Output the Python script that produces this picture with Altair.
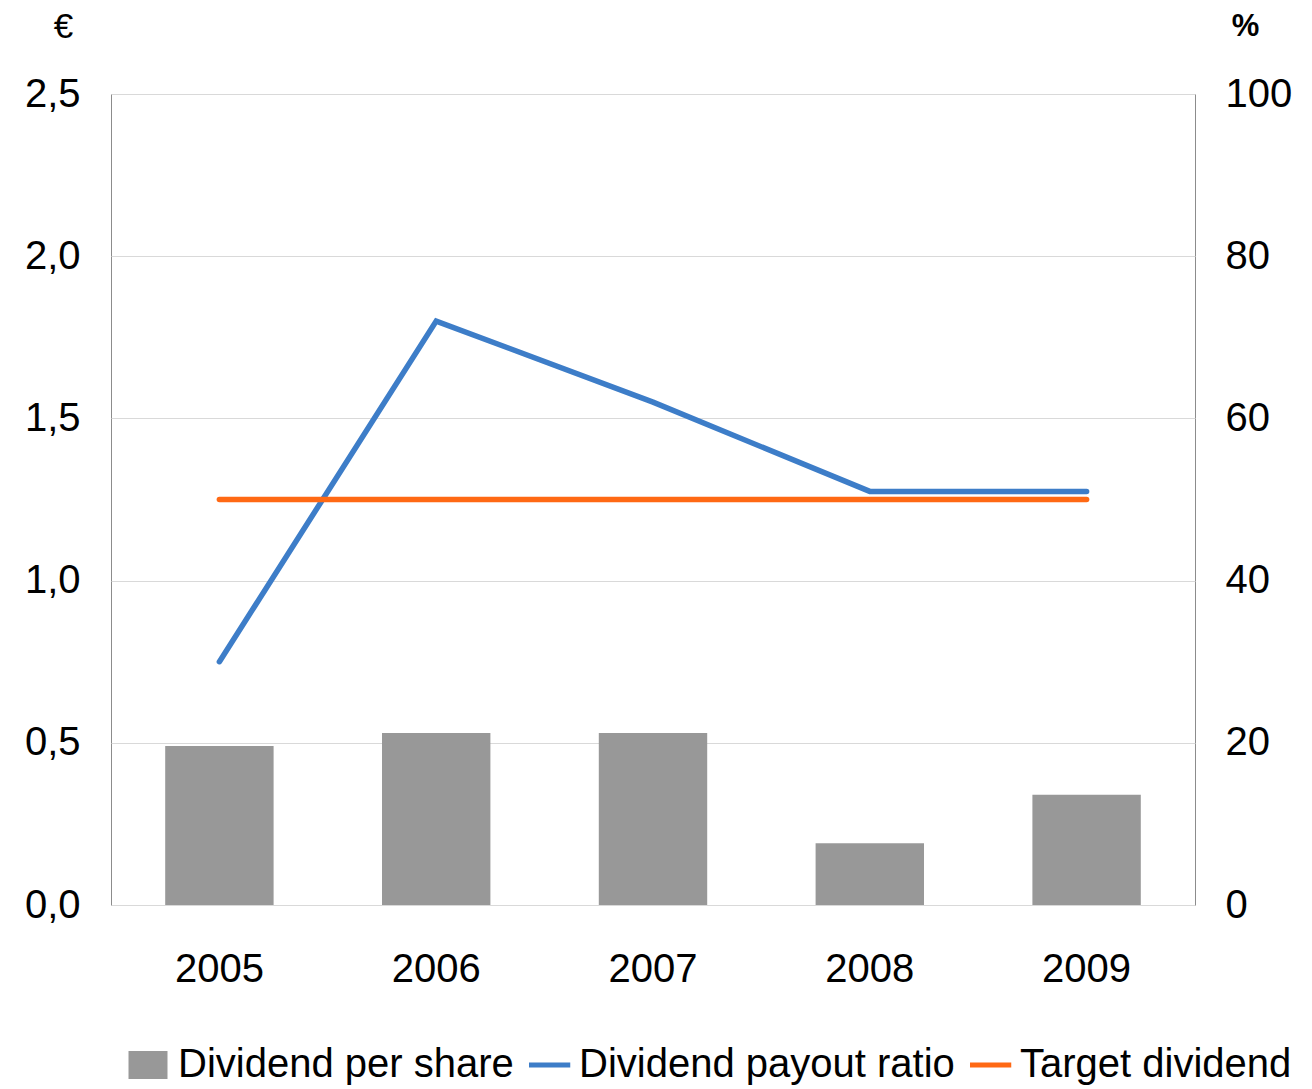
import altair as alt
import pandas as pd

# Chart data
years = ["2005", "2006", "2007", "2008", "2009"]
dividend_per_share = [0.49, 0.53, 0.53, 0.19, 0.34]   # € (left axis)
payout_ratio = [30, 72, 62, 51, 51]                    # % (right axis)
target_dividend = [50, 50, 50, 50, 50]                 # % (right axis)

series_names = ["Dividend per share", "Dividend payout ratio", "Target dividend"]
series_colors = ["#989898", "#3D7DC8", "#FF6914"]
# legend glyphs: a flat box for the bars, short strokes for the lines
legend_shapes = ["M-1,-0.68H1V0.68H-1Z", "M-1.25,0H1.25", "M-1.25,0H1.25"]

euro_ticks = [0, 0.5, 1.0, 1.5, 2.0, 2.5]
pct_ticks = [0, 20, 40, 60, 80, 100]

FONT = "Liberation Sans"

bars_df = pd.DataFrame({"year": years, "value": dividend_per_share})
lines_df = pd.DataFrame({
    "year": years * 2,
    "value": payout_ratio + target_dividend,
    "series": [series_names[1]] * len(years) + [series_names[2]] * len(years),
})
legend_df = pd.DataFrame({"series": series_names})

x_enc = alt.X(
    "year:N",
    sort=years,
    scale=alt.Scale(paddingInner=0.5, paddingOuter=0.25),
    axis=alt.Axis(title=None, labelAngle=0, ticks=False, domain=False,
                  labelPadding=44, labelFontSize=40, labelFont=FONT,
                  labelColor="black", grid=False),
)

bars = alt.Chart(bars_df).mark_bar(color=series_colors[0]).encode(
    x=x_enc,
    y=alt.Y(
        "value:Q",
        scale=alt.Scale(domain=[0, 2.5], nice=False),
        axis=alt.Axis(
            orient="left", title="€", values=euro_ticks,
            labelExpr="replace(format(datum.value, '.1f'), '.', ',')",
            ticks=False, domain=False, grid=True, gridColor="#d9d9d9", gridWidth=1,
            labelPadding=31, labelFontSize=40, labelFont=FONT, labelColor="black",
            titleAngle=0, titleX=-48, titleY=-57, titleAlign="center",
            titleBaseline="alphabetic", titleFontSize=35, titleFontWeight="normal",
            titleFont=FONT, titleColor="black",
        ),
    ),
)

lines = alt.Chart(lines_df).mark_line(strokeWidth=5.5, strokeCap="round", strokeJoin="miter").encode(
    x=x_enc,
    y=alt.Y(
        "value:Q",
        scale=alt.Scale(domain=[0, 100], nice=False),
        axis=alt.Axis(
            orient="right", title="%", values=pct_ticks, format="d",
            ticks=False, domain=False, grid=False,
            labelPadding=30, labelAlign="left", labelFontSize=40, labelFont=FONT,
            labelColor="black",
            titleAngle=0, titleX=50, titleY=-59, titleAlign="center",
            titleBaseline="alphabetic", titleFontSize=31, titleFontWeight="bold",
            titleFont=FONT, titleColor="black",
        ),
    ),
    color=alt.Color("series:N", scale=alt.Scale(domain=series_names[1:], range=series_colors[1:]),
                    legend=None),
    detail="series:N",
)

legend_props = dict(
    orient="none", legendX=17, legendY=947, direction="horizontal", title=None,
    labelFontSize=40, labelFont=FONT, labelColor="black", labelLimit=0,
    symbolSize=1156, symbolStrokeWidth=5, symbolOpacity=1,
    labelOffset=10, columnPadding=15, clipHeight=48,
)

# Legend entries for all three series (the layer itself draws no marks)
legend_layer = alt.Chart(legend_df).transform_filter("false").mark_point(filled=True).encode(
    fill=alt.Fill("series:N", scale=alt.Scale(domain=series_names, range=series_colors),
                  legend=alt.Legend(**legend_props)),
    stroke=alt.Stroke("series:N", scale=alt.Scale(domain=series_names, range=series_colors),
                      legend=alt.Legend(**legend_props)),
    shape=alt.Shape("series:N", scale=alt.Scale(domain=series_names, range=legend_shapes),
                    legend=alt.Legend(**legend_props)),
)

chart = (
    alt.layer(bars, lines, legend_layer)
    .resolve_scale(y="independent")
    .properties(
        width=1084, height=811,
        autosize=alt.AutoSizeParams(type="none"),
        padding={"left": 111, "top": 94, "right": 117, "bottom": 184},
        background="white",
    )
    .configure_view(stroke="#8c8c8c", strokeWidth=1)
)

chart.save("out.html", embed_options={"renderer": "svg", "actions": False})
